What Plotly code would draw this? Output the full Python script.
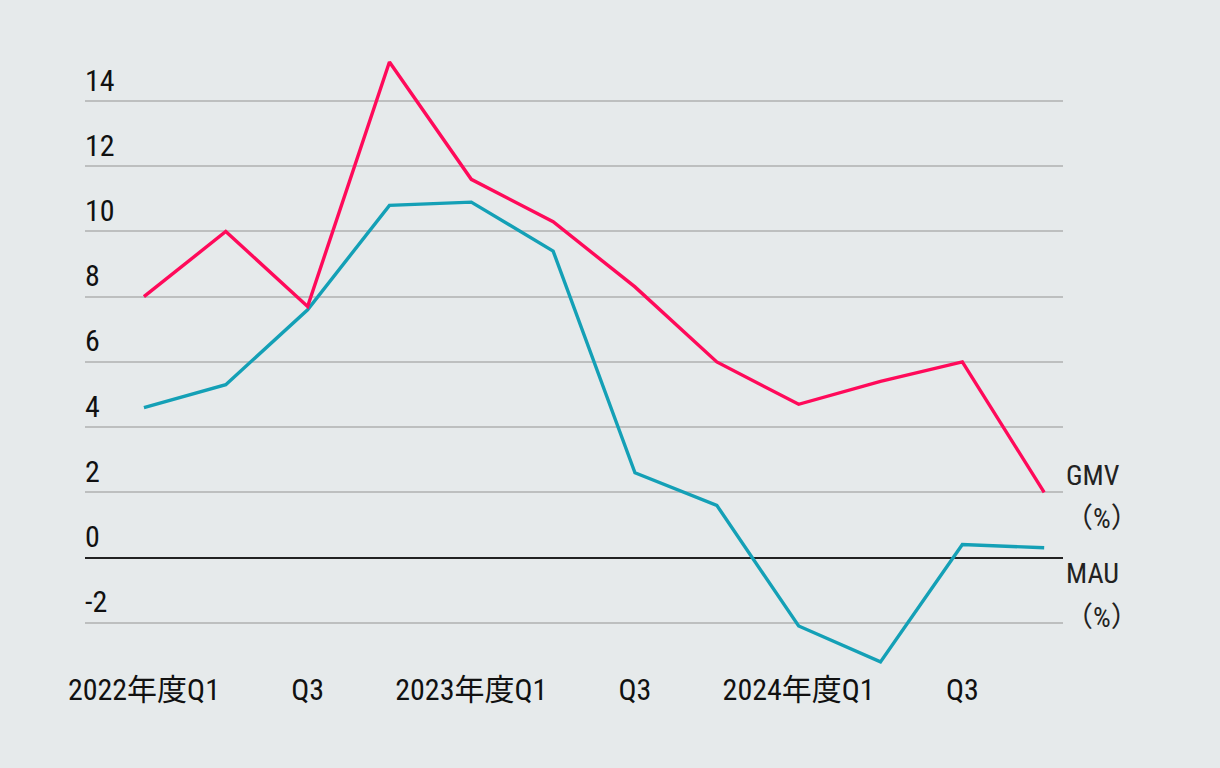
import plotly.graph_objects as go

quarters = ["2022年度Q1", "Q2", "Q3", "Q4", "2023年度Q1", "Q2", "Q3", "Q4",
            "2024年度Q1", "Q2", "Q3", "Q4"]
tick_labels = ["2022年度Q1", "", "Q3", "", "2023年度Q1", "", "Q3", "",
               "2024年度Q1", "", "Q3", ""]
gmv = [8.0, 10.0, 7.7, 15.2, 11.6, 10.3, 8.3, 6.0, 4.7, 5.4, 6.0, 2.0]
mau = [4.6, 5.3, 7.6, 10.8, 10.9, 9.4, 2.6, 1.6, -2.1, -3.2, 0.4, 0.3]
y_ticks = [-2, 0, 2, 4, 6, 8, 10, 12, 14]

FONT = "Roboto Condensed, Roboto, Noto Sans CJK JP, sans-serif"
BG = "#e6eaeb"
xs = list(range(len(quarters)))

fig = go.Figure()
fig.add_trace(go.Scatter(x=xs, y=mau, mode="lines", name="MAU",
                         line=dict(color="#14a0b6", width=3.4), hoverinfo="skip"))
fig.add_trace(go.Scatter(x=xs, y=gmv, mode="lines", name="GMV",
                         line=dict(color="#ff0a5a", width=3.4), hoverinfo="skip"))

fig.update_layout(
    width=1220, height=768,
    paper_bgcolor=BG, plot_bgcolor=BG,
    margin=dict(l=85, r=157, t=30, b=98),
    showlegend=False,
    font=dict(family=FONT, size=30, color="#111111"),
    xaxis=dict(range=[-0.72, 11.23], tickmode="array", tickvals=xs, ticktext=tick_labels,
               showgrid=False, zeroline=False, showline=False, ticks="",
               tickfont=dict(family=FONT, size=30, color="#111111"), ticklabelstandoff=-1),
    yaxis=dict(range=[-3.45, 16.18], tickmode="array", tickvals=y_ticks,
               ticktext=[str(v) for v in y_ticks],
               ticklabelposition="inside top", ticklabelstandoff=-3,
               showgrid=True, gridcolor="#bdbfbf", gridwidth=2,
               zeroline=True, zerolinecolor="#222222", zerolinewidth=2,
               showline=False, ticks="",
               tickfont=dict(family=FONT, size=30, color="#111111")),
)

side_labels = [("GMV", gmv[-1] + 0.53, 0.001), ("（%）", gmv[-1] - 0.79, 0.0),
               ("MAU", mau[-1] - 0.78, 0.001), ("（%）", mau[-1] - 2.13, 0.0)]
for text, yv, dx in side_labels:
    fig.add_annotation(x=1 + dx, xref="paper", y=yv, yref="y", text=text,
                       showarrow=False, xanchor="left", yanchor="middle",
                       font=dict(family=FONT, size=28, color="#222222"))

fig.write_html("out.html", config={"displayModeBar": False},
               post_script="document.body.style.margin='0';document.body.style.overflow='hidden';")
